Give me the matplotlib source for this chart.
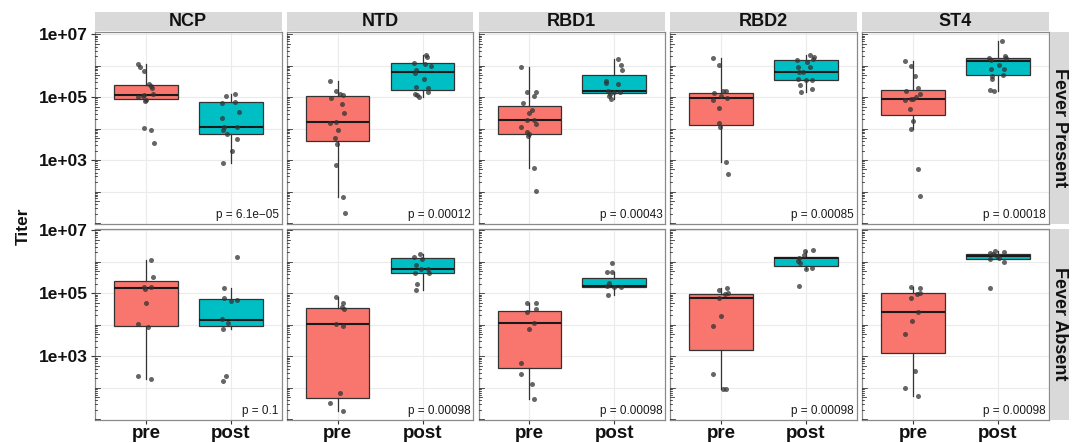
import numpy as np
import matplotlib
matplotlib.use("Agg")
import matplotlib.pyplot as plt
from matplotlib.transforms import blended_transform_factory
from matplotlib.ticker import FixedLocator, NullFormatter
from matplotlib.patches import Rectangle

plt.rcParams['font.family'] = ['Liberation Sans', 'DejaVu Sans']

antigens = ["NCP", "NTD", "RBD1", "RBD2", "ST4"]
fever_groups = ["Fever Present", "Fever Absent"]
timepoints = ["pre", "post"]
p_present = ["p = 6.1e\u221205", "p = 0.00012", "p = 0.00043", "p = 0.00085", "p = 0.00018"]
p_absent = ["p = 0.1", "p = 0.00098", "p = 0.00098", "p = 0.00098", "p = 0.00098"]

# ---- individual samples: log10(titer) ----
present_pre = {
    "NCP": [6.06, 5.96, 5.83, 5.42, 5.35, 5.28, 5.07, 5.09, 5.01, 5.03, 4.92, 4.88, 4.02, 3.95, 3.53],
    "NTD": [5.52, 5.19, 5.10, 5.08, 4.96, 4.77, 4.50, 4.22, 4.18, 3.96, 3.70, 3.51, 2.83, 1.83, 1.33],
    "RBD1": [5.95, 5.17, 5.17, 5.04, 4.81, 4.59, 4.48, 4.27, 4.27, 4.15, 4.05, 3.88, 3.82, 3.77, 2.76, 2.03],
    "RBD2": [6.24, 6.03, 5.20, 5.18, 5.13, 5.04, 4.98, 4.90, 4.66, 4.17, 4.04, 2.95, 2.56],
    "ST4": [6.16, 5.99, 5.67, 5.29, 5.18, 5.09, 5.00, 4.95, 4.94, 4.90, 4.61, 4.24, 3.99, 2.72, 1.85],
}
present_post = {
    "NCP": [5.09, 5.04, 4.85, 4.81, 4.54, 4.34, 4.05, 4.05, 3.95, 3.82, 3.67, 3.28, 2.90],
    "NTD": [6.34, 6.27, 6.08, 6.06, 5.98, 5.85, 5.77, 5.57, 5.33, 5.28, 5.16, 5.10, 5.05, 5.00],
    "RBD1": [6.22, 6.01, 5.85, 5.52, 5.44, 5.42, 5.18, 5.15, 5.15, 5.11, 5.02, 4.95],
    "RBD2": [6.35, 6.27, 6.20, 6.17, 6.11, 5.95, 5.94, 5.81, 5.79, 5.56, 5.54, 5.54, 5.39, 5.15, 5.25],
    "ST4": [6.78, 6.25, 6.30, 6.25, 6.17, 6.02, 5.89, 5.89, 5.67, 5.71, 5.56, 5.23, 5.20],
}
absent_pre = {
    "NCP": [6.04, 5.52, 5.20, 5.15, 5.20, 4.68, 4.02, 3.93, 2.38, 2.27],
    "NTD": [4.87, 4.70, 4.50, 4.56, 4.03, 3.97, 1.82, 1.53, 1.26],
    "RBD1": [4.68, 4.68, 4.50, 4.40, 4.05, 3.88, 2.79, 2.42, 2.12, 1.63],
    "RBD2": [5.10, 5.16, 5.02, 4.98, 4.86, 4.28, 3.97, 2.44, 1.96, 1.96],
    "ST4": [5.20, 5.18, 5.02, 4.97, 4.86, 4.40, 4.11, 3.69, 2.53, 2.00, 1.74],
}
absent_post = {
    "NCP": [6.14, 5.17, 4.85, 4.75, 4.80, 4.17, 4.05, 3.86, 2.36, 2.21],
    "NTD": [6.25, 6.15, 6.08, 5.90, 5.77, 5.77, 5.63, 5.65, 5.29, 5.09],
    "RBD1": [5.96, 5.66, 5.68, 5.31, 5.23, 5.20, 5.21, 4.95],
    "RBD2": [6.38, 6.34, 6.22, 6.13, 6.02, 5.97, 5.77, 5.79, 5.22],
    "ST4": [6.35, 6.29, 6.30, 6.24, 6.19, 6.10, 6.12, 5.99, 5.18],
}

# ---- horizontal jitter of each sample (category units) ----
present_pre_jit = {
    "NCP": [-0.094, -0.075, -0.02, 0.04, 0.06, 0.07, -0.02, 0.08, -0.094, -0.035, 0.0, -0.01, -0.02, 0.06, 0.09],
    "NTD": [-0.094, -0.02, 0.03, 0.06, -0.078, 0.055, 0.074, -0.023, -0.094, 0.0, -0.03, -0.008, -0.02, 0.06, 0.086],
    "RBD1": [-0.1, 0.078, -0.03, 0.06, -0.08, 0.027, 0.0, -0.03, 0.055, 0.074, -0.1, -0.03, -0.01, -0.02, 0.06, 0.078],
    "RBD2": [-0.094, -0.02, 0.059, 0.024, -0.082, 0.0, 0.067, -0.094, -0.02, -0.03, -0.008, 0.063, 0.082],
    "ST4": [-0.094, -0.024, 0.03, 0.059, -0.082, 0.078, 0.04, 0.0, -0.027, -0.094, -0.03, -0.004, -0.024, 0.063, 0.082],
}
present_post_jit = {
    "NCP": [0.047, -0.05, 0.047, -0.098, 0.094, -0.1, -0.08, 0.075, -0.086, -0.04, 0.075, 0.016, -0.09],
    "NTD": [0.04, 0.05, -0.1, 0.035, 0.1, -0.08, -0.094, 0.016, -0.08, 0.07, 0.07, -0.086, -0.07, -0.047],
    "RBD1": [0.043, 0.075, 0.094, -0.1, -0.1, 0.043, -0.078, 0.07, -0.008, -0.047, -0.067, -0.043],
    "RBD2": [0.047, 0.09, 0.082, -0.1, 0.012, 0.043, -0.094, -0.082, -0.04, -0.094, 0.0, 0.07, -0.075, -0.06, 0.075],
    "ST4": [0.047, -0.1, 0.082, 0.098, -0.08, 0.016, -0.078, 0.078, -0.07, 0.063, -0.067, -0.086, -0.04],
}
absent_pre_jit = {
    "NCP": [0.055, 0.08, -0.027, -0.016, 0.063, -0.004, -0.094, 0.027, -0.094, 0.06],
    "NTD": [-0.023, 0.06, 0.078, 0.047, -0.016, 0.06, 0.03, -0.094, 0.06],
    "RBD1": [-0.027, 0.075, 0.078, -0.023, 0.055, 0.0, -0.1, -0.1, 0.027, 0.055],
    "RBD2": [-0.02, 0.07, 0.078, 0.05, -0.02, 0.0, -0.1, -0.1, 0.027, 0.055],
    "ST4": [-0.024, 0.078, 0.082, 0.05, -0.024, 0.055, -0.008, -0.094, 0.03, -0.094, 0.063],
}
absent_post_jit = {
    "NCP": [0.075, -0.08, -0.08, 0.0, 0.07, -0.1, -0.03, -0.086, -0.06, -0.086],
    "NTD": [-0.035, -0.1, -0.008, -0.08, -0.023, 0.07, 0.078, -0.086, -0.063, -0.08],
    "RBD1": [-0.023, -0.086, -0.03, -0.06, -0.086, 0.0, 0.078, -0.078],
    "RBD2": [0.082, -0.016, -0.027, -0.078, -0.094, -0.07, 0.004, 0.075, -0.086],
    "ST4": [-0.027, -0.09, 0.078, -0.06, -0.012, -0.086, 0.012, 0.07, -0.086],
}

# ---- box statistics, log10: [whisker low, q1, median, q3, whisker high] ----
present_pre_box = {
    "NCP": [4.88, 4.93, 5.06, 5.39, 6.06], "NTD": [1.83, 3.60, 4.22, 5.02, 5.52],
    "RBD1": [2.76, 3.83, 4.27, 4.70, 5.95], "RBD2": [2.95, 4.10, 4.98, 5.13, 6.24],
    "ST4": [3.99, 4.43, 4.95, 5.23, 6.16],
}
present_post_box = {
    "NCP": [2.91, 3.83, 4.05, 4.83, 5.09], "NTD": [5.00, 5.21, 5.80, 6.07, 6.34],
    "RBD1": [4.95, 5.13, 5.20, 5.69, 6.22], "RBD2": [5.15, 5.54, 5.80, 6.19, 6.35],
    "ST4": [5.20, 5.71, 6.14, 6.24, 6.78],
}
absent_pre_box = {
    "NCP": [2.27, 3.97, 5.16, 5.38, 6.04], "NTD": [1.26, 1.68, 4.02, 4.53, 4.87],
    "RBD1": [1.63, 2.61, 4.05, 4.45, 4.68], "RBD2": [1.96, 3.21, 4.85, 4.97, 5.16],
    "ST4": [1.74, 3.11, 4.40, 5.00, 5.20],
}
absent_post_box = {
    "NCP": [3.86, 3.96, 4.16, 4.81, 5.17], "NTD": [5.10, 5.63, 5.77, 6.11, 6.25],
    "RBD1": [4.95, 5.20, 5.24, 5.48, 5.66], "RBD2": [5.77, 5.88, 6.11, 6.14, 6.33],
    "ST4": [6.10, 6.10, 6.18, 6.26, 6.35],
}

rows = [
    (present_pre, present_post, present_pre_jit, present_post_jit, present_pre_box, present_post_box, p_present),
    (absent_pre, absent_post, absent_pre_jit, absent_post_jit, absent_pre_box, absent_post_box, p_absent),
]

fill_colors = ["#F8766D", "#00BFC4"]
W, H = 1080, 443
fig = plt.figure(figsize=(W / 100, H / 100), dpi=100)

col_left = [95, 286.8, 478.5, 670.2, 862.0]
panel_w = 186.6
row_top = [32.3, 228.5]
panel_h = 191.2

all_vals = []
for d in (present_pre, present_post, absent_pre, absent_post):
    for a in antigens:
        all_vals += d[a]
lo, hi = min(all_vals), max(all_vals)
pad = 0.05 * (hi - lo)
ylim = (10 ** (lo - pad), 10 ** (hi + pad))

def fx(px):
    return px / W

def fy(py):
    return 1 - py / H

for r, (pre_d, post_d, pre_j, post_j, pre_b, post_b, pvals) in enumerate(rows):
    for c, ag in enumerate(antigens):
        x0 = col_left[c]
        y0 = row_top[r]
        ax = fig.add_axes([fx(x0), fy(y0 + panel_h), panel_w / W, panel_h / H])
        ax.set_yscale('log')
        ax.set_facecolor('white')
        for s in ax.spines.values():
            s.set_color('#8a8a8a')
            s.set_linewidth(0.9)

        # boxes
        stats = []
        for b in (pre_b[ag], post_b[ag]):
            stats.append(dict(whislo=10 ** b[0], q1=10 ** b[1], med=10 ** b[2],
                              q3=10 ** b[3], whishi=10 ** b[4], fliers=[]))
        bp = ax.bxp(stats, positions=[1, 2], widths=0.75, patch_artist=True,
                    showcaps=False, showfliers=False, manage_ticks=False,
                    boxprops=dict(edgecolor='#333333', linewidth=0.9),
                    whiskerprops=dict(color='#333333', linewidth=0.9),
                    medianprops=dict(color='#1a1a1a', linewidth=1.5))
        for patch, col in zip(bp['boxes'], fill_colors):
            patch.set_facecolor(col)
            patch.set_zorder(2)
        for ln in bp['whiskers'] + bp['medians']:
            ln.set_zorder(2.5)

        # points
        for pos, vals, jit in ((1, pre_d[ag], pre_j[ag]), (2, post_d[ag], post_j[ag])):
            xs = pos + np.array(jit)
            ys = 10 ** np.array(vals)
            ax.scatter(xs, ys, s=13, color='#333333', alpha=0.75, linewidths=0, zorder=3)

        ax.set_ylim(*ylim)
        ax.set_xlim(0.4, 2.6)

        # grid
        ax.yaxis.set_major_locator(FixedLocator([1e3, 1e5, 1e7]))
        ax.yaxis.set_minor_locator(FixedLocator([1e0, 1e2, 1e4, 1e6]))
        ax.yaxis.set_minor_formatter(NullFormatter())
        ax.xaxis.set_major_locator(FixedLocator([1, 2]))
        ax.grid(True, which='both', color='#EBEBEB', linewidth=0.8, zorder=0)
        ax.set_axisbelow(True)
        ax.tick_params(axis='y', which='minor', length=0)

        # log ticks (inside, left)
        tr = blended_transform_factory(ax.transAxes, ax.transData)
        for dec in range(0, 8):
            for k in range(1, 10):
                yv = k * 10 ** dec
                if ylim[0] <= yv <= ylim[1]:
                    L = 5.0 if k == 1 else (3.5 if k == 5 else 2.2)
                    ax.plot([0, L / panel_w], [yv, yv], transform=tr, color='#222222',
                            linewidth=0.55, zorder=4, clip_on=False)

        # p value
        ax.text(0.985, 0.015, pvals[c], transform=ax.transAxes, ha='right', va='bottom',
                fontsize=8.5, color='#1a1a1a', zorder=5)

        # ticks & labels
        if c == 0:
            ax.set_yticklabels(["1e+03", "1e+05", "1e+07"], fontsize=12.5, fontweight='bold',
                               color='#111111')
            ax.tick_params(axis='y', which='major', length=3, width=0.8, color='#333333', pad=2)
        else:
            ax.tick_params(axis='y', which='major', length=0, labelleft=False)
        if r == 1:
            ax.set_xticklabels(timepoints, fontsize=13.5, fontweight='bold', color='#111111')
            ax.tick_params(axis='x', length=3, width=0.8, color='#333333', pad=1)
        else:
            ax.tick_params(axis='x', length=0, labelbottom=False)

        # top strips
        if r == 0:
            fig.patches.append(Rectangle((fx(x0), fy(30.8)), panel_w / W, 18.5 / H,
                                         transform=fig.transFigure, facecolor='#D9D9D9',
                                         edgecolor='none'))
            fig.text(fx(x0 + panel_w / 2), fy(21.4), ag, ha='center', va='center',
                     fontsize=13, fontweight='bold', color='#111111')

    # right strips
    fig.patches.append(Rectangle((fx(1049.5), fy(row_top[r] + panel_h)), 19.5 / W, panel_h / H,
                                 transform=fig.transFigure, facecolor='#D9D9D9', edgecolor='none'))
    fig.text(fx(1059.3), fy(row_top[r] + panel_h / 2), fever_groups[r], ha='center', va='center',
             rotation=-90, fontsize=13, fontweight='bold', color='#111111')

fig.text(fx(23), fy(226), "Titer", ha='center', va='center', rotation=90,
         fontsize=12.5, fontweight='bold', color='#111111')

fig.savefig("out.png", dpi=100)
